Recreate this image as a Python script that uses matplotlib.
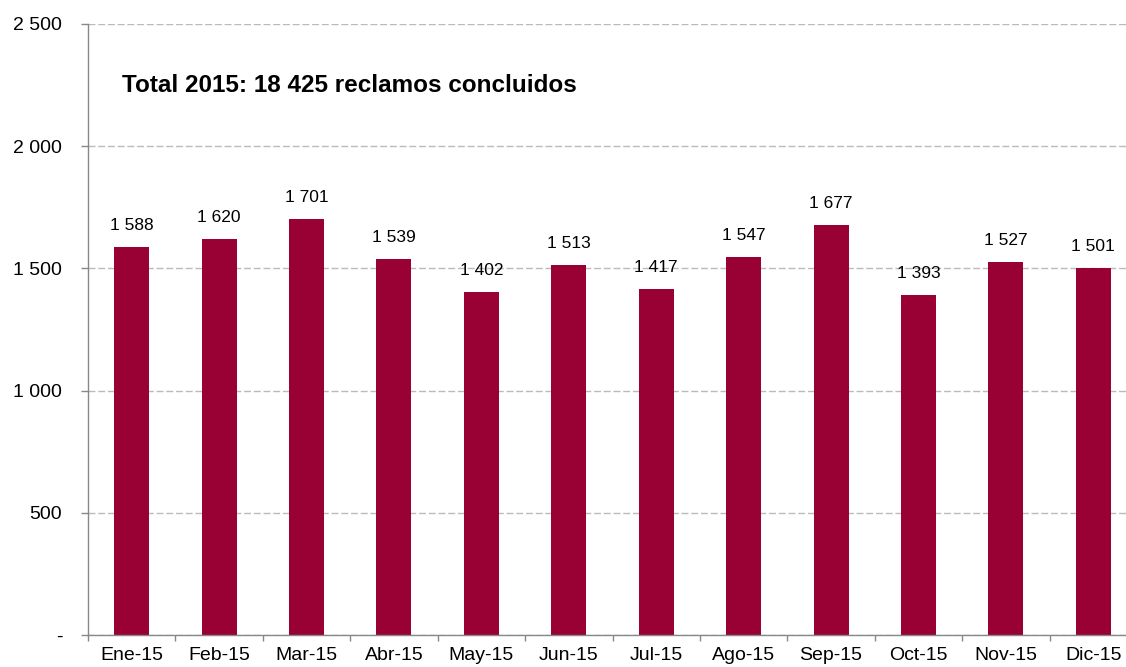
import matplotlib
matplotlib.use("Agg")
import matplotlib.pyplot as plt
from matplotlib.ticker import FixedLocator, FuncFormatter

months = ["Ene-15", "Feb-15", "Mar-15", "Abr-15", "May-15", "Jun-15",
          "Jul-15", "Ago-15", "Sep-15", "Oct-15", "Nov-15", "Dic-15"]
values = [1588, 1620, 1701, 1539, 1402, 1513, 1417, 1547, 1677, 1393, 1527, 1501]
yticks = [0, 500, 1000, 1500, 2000, 2500]
title = "Total 2015: 18 425 reclamos concluidos"

plt.rcParams['font.family'] = ['Liberation Sans', 'DejaVu Sans']

def fmt(v):
    v = int(round(v))
    if v == 0:
        return "-"
    return f"{v:,}".replace(",", " ")

fig = plt.figure(figsize=(11.26, 6.67), dpi=100)
ax = fig.add_axes([88/1126, 32/667, 1049/1126, 611/667])

x = list(range(len(months)))
ax.bar(x, values, width=0.4, color="#990033", zorder=3)

for xi, v in zip(x, values):
    ax.annotate(fmt(v), (xi, v), xytext=(0, 10), textcoords="offset points",
                ha="center", va="bottom", fontsize=12.5, color="black")

ax.set_xlim(-0.5, len(months) - 0.5)
ax.set_ylim(0, 2500)
ax.set_yticks(yticks)
ax.yaxis.set_major_formatter(FuncFormatter(lambda v, p: fmt(v)))
ax.tick_params(axis='y', length=5, width=1, color="#888888", pad=13.5, labelsize=14)

ax.set_xticks(x)
ax.set_xticklabels(months)
ax.xaxis.set_minor_locator(FixedLocator([i - 0.5 for i in range(len(months) + 1)]))
ax.tick_params(axis='x', which='major', length=0, pad=9, labelsize=14)
ax.tick_params(axis='x', which='minor', length=4.5, width=1, color="#888888")

ax.grid(axis='y', color="#BBBBBB", linestyle=(0, (5, 2)), linewidth=1, zorder=0)
for s in ["top", "right"]:
    ax.spines[s].set_visible(False)
for s in ["left", "bottom"]:
    ax.spines[s].set_color("#888888")
    ax.spines[s].set_linewidth(1)
    ax.spines[s].set_zorder(4)

fig.text(122/1126, 1 - 85/667, title, fontsize=17.5, fontweight="bold",
         ha="left", va="center")

fig.savefig("out.png", dpi=100)
